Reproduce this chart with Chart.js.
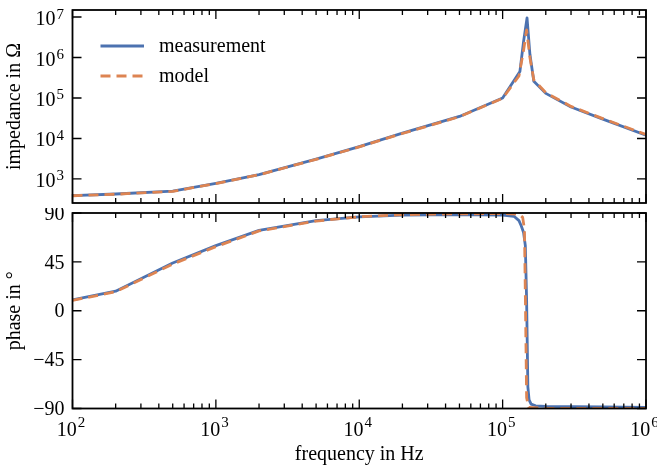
<!DOCTYPE html>
<html>
<head>
<meta charset="utf-8">
<script src="https://cdn.jsdelivr.net/npm/chart.js@4.4.0/dist/chart.umd.min.js"></script>
<style>
    body { margin: 0; background: #ffffff; }
    #wrap { position: relative; width: 657px; height: 468px; background: #ffffff; }
    #wrap canvas { position: absolute; left: 0; }
</style>
</head>
<body>
<div id="wrap">
    <canvas id="impedanceChart" width="657" height="208" style="top:0"></canvas>
    <canvas id="phaseChart" width="657" height="260" style="top:208px"></canvas>
</div>
<script>
// ---- data ----
const impFreqMeas = [100, 200, 500, 1e3, 2e3, 5e3, 1e4, 2e4, 5e4, 1e5, 1.32e5, 1.4e5, 1.48e5, 1.55e5, 1.65e5, 2e5, 3e5, 5e5, 1e6];
const impMeas     = [390, 425, 500, 780, 1280, 3100, 6300, 13500, 35000, 100000, 450000, 2.5e6, 9.5e6, 1.2e6, 2.6e5, 1.3e5, 6e4, 3e4, 1.2e4];
const impFreqModel = [100, 200, 500, 1e3, 2e3, 5e3, 1e4, 2e4, 5e4, 1e5, 1.3e5, 1.4e5, 1.47e5, 1.55e5, 1.65e5, 2e5, 3e5, 5e5, 1e6];
const impModel     = [385, 420, 495, 770, 1270, 3050, 6200, 13300, 34500, 98000, 3.5e5, 1.5e6, 4.8e6, 1.0e6, 2.8e5, 1.35e5, 6.2e4, 3.1e4, 1.25e4];

const phaseFreqMeas = [100, 200, 500, 1e3, 2e3, 5e3, 1e4, 2e4, 5e4, 1e5, 1.2e5, 1.3e5, 1.35e5, 1.4e5, 1.44e5, 1.47e5, 1.5e5, 1.53e5, 1.58e5, 1.7e5, 2e5, 5e5, 1e6];
const phaseMeas     = [10, 18, 44, 60, 74, 83, 86.5, 88, 88.5, 88, 87, 83, 78, 72, 60, 10, -70, -82, -86, -87.5, -88, -88.5, -89];
const phaseFreqModel = [100, 200, 500, 1e3, 2e3, 5e3, 1e4, 2e4, 5e4, 1e5, 1.3e5, 1.38e5, 1.42e5, 1.445e5, 1.47e5, 1.52e5, 2e5, 1e6];
const phaseModel     = [9.5, 17.5, 43, 59, 73.5, 82.5, 86.5, 88.5, 89.2, 89.5, 89, 86, 75, 0, -80, -89, -89.8, -90];

const seriesLabels = ['measurement', 'model'];

// ---- tick labels ----
const freqMajor = [1e2, 1e3, 1e4, 1e5, 1e6];
const freqExp   = ['2', '3', '4', '5', '6'];
const impMajor  = [1e3, 1e4, 1e5, 1e6, 1e7];
const impExp    = ['3', '4', '5', '6', '7'];
const phaseMajor  = [-90, -45, 0, 45, 90];
const phaseLabels = ['\u221290', '\u221245', '0', '45', '90'];

const xTitle = 'frequency in Hz';
const impTitle = 'impedance in \u03a9';
const phaseTitle = 'phase in \u00b0';

const BLUE = '#4c72b0';
const ORANGE = '#dd8452';
const FONT = '20px "Liberation Serif", "Times New Roman", serif';
const EXP_FONT = '15px "Liberation Serif", "Times New Roman", serif';
const MAJOR_LEN = 9;
const MINOR_LEN = 5;

// minor tick positions 2..9 x 10^n between the decades
const freqMinor = [];
freqMajor.slice(0, -1).forEach(d => {
    for (let k = 2; k <= 9; k++) freqMinor.push(d * k);
});

function points(xs, ys) {
    return xs.map((x, i) => ({x: x, y: ys[i]}));
}

function powerLabel(ctx, exp, x, y, align, rise) {
    ctx.font = FONT;
    const wBase = ctx.measureText('10').width;
    ctx.font = EXP_FONT;
    const wExp = ctx.measureText(exp).width;
    const total = wBase + 1 + wExp;
    const left = align === 'center' ? x - total / 2 - 1.5 : x - total;
    ctx.textAlign = 'left';
    ctx.textBaseline = 'alphabetic';
    ctx.font = FONT;
    ctx.fillText('10', left, y);
    ctx.font = EXP_FONT;
    ctx.fillText(exp, left + wBase + 1, y - rise);
}

// frame, inward ticks on all four sides, labels and titles
function axesPlugin(cfg) {
    return {
        id: 'axes_' + cfg.name,
        afterDatasetsDraw(chart) {
            const {ctx, chartArea: a, scales} = chart;
            ctx.save();
            ctx.strokeStyle = '#000';
            ctx.fillStyle = '#000';

            // x ticks top and bottom
            ctx.lineWidth = 1.3;
            ctx.beginPath();
            freqMajor.forEach(v => {
                const px = scales.x.getPixelForValue(v);
                ctx.moveTo(px, a.bottom); ctx.lineTo(px, a.bottom - MAJOR_LEN);
                ctx.moveTo(px, a.top); ctx.lineTo(px, a.top + MAJOR_LEN);
            });
            freqMinor.forEach(v => {
                const px = scales.x.getPixelForValue(v);
                ctx.moveTo(px, a.bottom); ctx.lineTo(px, a.bottom - MINOR_LEN);
                ctx.moveTo(px, a.top); ctx.lineTo(px, a.top + MINOR_LEN);
            });
            // y ticks left and right
            cfg.yMajor.forEach(v => {
                const py = scales.y.getPixelForValue(v);
                ctx.moveTo(a.left, py); ctx.lineTo(a.left + MAJOR_LEN, py);
                ctx.moveTo(a.right, py); ctx.lineTo(a.right - MAJOR_LEN, py);
            });
            ctx.stroke();

            ctx.lineWidth = 1.8;
            ctx.strokeRect(a.left, a.top, a.right - a.left, a.bottom - a.top);

            // y tick labels
            cfg.yMajor.forEach((v, i) => {
                const py = scales.y.getPixelForValue(v);
                if (cfg.yExp) {
                    powerLabel(ctx, cfg.yExp[i], a.left - 8.5, py + 8, 'right', 6.5);
                } else {
                    ctx.font = FONT;
                    ctx.textAlign = 'right';
                    ctx.textBaseline = 'alphabetic';
                    ctx.fillText(cfg.yLabels[i], a.left - 8, py + 6.7);
                }
            });

            // x tick labels and title (bottom panel only)
            if (cfg.showX) {
                freqMajor.forEach((v, i) => {
                    const px = scales.x.getPixelForValue(v);
                    powerLabel(ctx, freqExp[i], px, a.bottom + 27.5, 'center', 9);
                });
                ctx.font = FONT;
                ctx.textAlign = 'center';
                ctx.textBaseline = 'alphabetic';
                ctx.fillText(xTitle, (a.left + a.right) / 2, a.bottom + 51);
            }

            // rotated y title
            ctx.save();
            ctx.translate(19.5, (a.top + a.bottom) / 2);
            ctx.rotate(-Math.PI / 2);
            ctx.font = FONT;
            ctx.textAlign = 'center';
            ctx.textBaseline = 'alphabetic';
            ctx.fillText(cfg.title, 0, 0);
            ctx.restore();

            // legend inside the upper panel
            if (cfg.legend) {
                const order = [1, 0];
                order.forEach((di, row) => {
                    const ds = chart.data.datasets[di];
                    const y = a.top + 36 + row * 30;
                    ctx.save();
                    ctx.strokeStyle = ds.borderColor;
                    ctx.lineWidth = ds.borderWidth;
                    ctx.setLineDash(ds.borderDash || []);
                    ctx.beginPath();
                    ctx.moveTo(a.left + 28, y);
                    ctx.lineTo(a.left + 71.5, y);
                    ctx.stroke();
                    ctx.restore();
                    ctx.font = FONT;
                    ctx.textAlign = 'left';
                    ctx.textBaseline = 'alphabetic';
                    ctx.fillText(ds.label, a.left + 86.5, y + 5.5);
                });
            }
            ctx.restore();
        }
    };
}

function lineDatasets(measPts, modelPts) {
    return [{
        label: seriesLabels[1],
        data: modelPts,
        borderColor: ORANGE,
        borderWidth: 2.8,
        borderDash: [10, 6],
        order: 1
    }, {
        label: seriesLabels[0],
        data: measPts,
        borderColor: BLUE,
        borderWidth: 2.8,
        order: 2
    }];
}

function commonOptions(yScale, padding) {
    return {
        responsive: false,
        animation: false,
        events: [],
        layout: { padding: padding },
        elements: {
            point: { radius: 0 },
            line: { tension: 0, fill: false, borderJoinStyle: 'round', borderCapStyle: 'butt' }
        },
        datasets: { line: { clip: 0 } },
        plugins: {
            legend: { display: false },
            tooltip: { enabled: false }
        },
        scales: {
            x: { type: 'logarithmic', min: 100, max: 1e6, display: false },
            y: yScale
        }
    };
}

// Impedance (upper panel)
new Chart(document.getElementById('impedanceChart').getContext('2d'), {
    type: 'line',
    data: { datasets: lineDatasets(points(impFreqMeas, impMeas), points(impFreqModel, impModel)) },
    options: commonOptions(
        { type: 'logarithmic', min: 255, max: 1.49e7, display: false },
        { left: 72.5, right: 11, top: 10, bottom: 5 }
    ),
    plugins: [axesPlugin({ name: 'imp', yMajor: impMajor, yExp: impExp, title: impTitle, showX: false, legend: true })]
});

// Phase (lower panel)
new Chart(document.getElementById('phaseChart').getContext('2d'), {
    type: 'line',
    data: { datasets: lineDatasets(points(phaseFreqMeas, phaseMeas), points(phaseFreqModel, phaseModel)) },
    options: commonOptions(
        { type: 'linear', min: -90, max: 90, display: false },
        { left: 72.5, right: 11, top: 5, bottom: 59.5 }
    ),
    plugins: [axesPlugin({ name: 'phase', yMajor: phaseMajor, yLabels: phaseLabels, title: phaseTitle, showX: true, legend: false })]
});
</script>
</body>
</html>
